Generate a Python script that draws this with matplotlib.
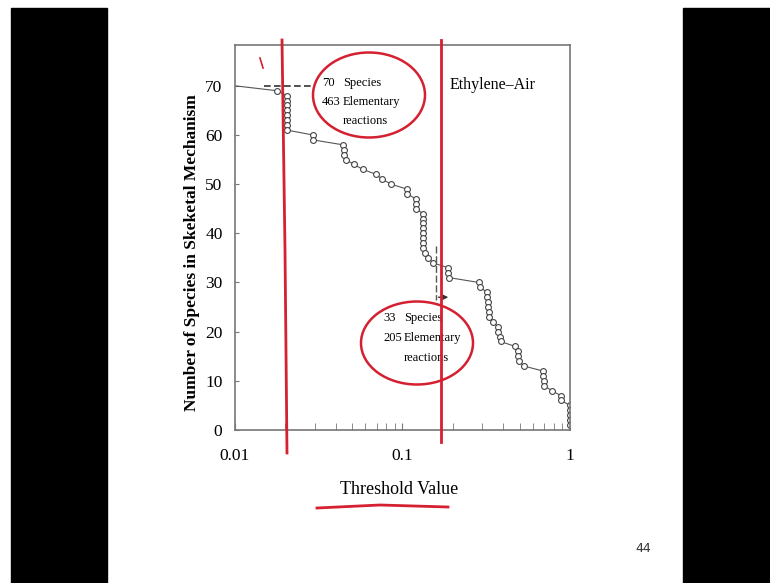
import matplotlib.pyplot as plt
import numpy as np
from matplotlib.patches import Ellipse, Rectangle
from matplotlib.lines import Line2D

# threshold value vs number of species kept in the skeletal mechanism
thresholds = [0.01, 0.0178,
              0.0204, 0.0204, 0.0204, 0.0204, 0.0204, 0.0204, 0.0204, 0.0204,
              0.0292, 0.0292,
              0.0441, 0.045, 0.045, 0.046,
              0.0513, 0.058, 0.0695, 0.0757, 0.0855,
              0.106, 0.107,
              0.120, 0.121, 0.121,
              0.132, 0.132, 0.133, 0.133, 0.133, 0.133, 0.133, 0.133,
              0.136, 0.142, 0.152,
              0.187, 0.187, 0.189,
              0.286, 0.29,
              0.32, 0.32, 0.322, 0.325, 0.33, 0.33,
              0.347, 0.37, 0.372, 0.38, 0.385,
              0.47, 0.49, 0.49, 0.495, 0.531,
              0.69, 0.69, 0.70, 0.70,
              0.78, 0.88, 0.885,
              1.0, 1.0, 1.0, 1.0, 1.0]
species = [70, 69,
           68, 67, 66, 65, 64, 63, 62, 61,
           60, 59,
           58, 57, 56, 55,
           54, 53, 52, 51, 50,
           49, 48,
           47, 46, 45,
           44, 43, 42, 41, 40, 39, 38, 37,
           36, 35, 34,
           33, 32, 31,
           30, 29,
           28, 27, 26, 25, 24, 23,
           22, 21, 20, 19, 18,
           17, 16, 15, 14, 13,
           12, 11, 10, 9,
           8, 7, 6,
           5, 4, 3, 2, 1]

x_ticks = [0.01, 0.1, 1]
x_tick_labels = ["0.01", "0.1", "1"]
y_ticks = [0, 10, 20, 30, 40, 50, 60, 70]

# annotation boxes: number column, word column, lines
note_full = ["70", "463", ""]
note_full_words = ["Species", "Elementary", "reactions"]
note_full_y = [70.6, 66.7, 62.9]
note_skel = ["33", "205", ""]
note_skel_words = ["Species", "Elementary", "reactions"]
note_skel_y = [22.8, 18.7, 14.65]

serif = "Liberation Serif"

fig = plt.figure(figsize=(7.7, 5.83), dpi=100)
fig.patch.set_facecolor("white")

# black side bars of the video frame
fig.patches.append(Rectangle((11 / 770, 0), 96 / 770, 575 / 583,
                             transform=fig.transFigure, color="black", zorder=0))
fig.patches.append(Rectangle((683 / 770, 0), 87 / 770, 575 / 583,
                             transform=fig.transFigure, color="black", zorder=0))

ax = fig.add_axes([235 / 770, 1 - 430 / 583, 335 / 770, 385 / 583])
ax.plot(thresholds, species, color="#555555", lw=0.8, marker="o", ms=4.2,
        mfc="white", mec="#444444", mew=0.8, markevery=list(range(1, len(species))))

ax.set_xscale("log")
ax.set_xlim(0.01, 1)
ax.set_ylim(0, 78.3)
ax.set_xticks(x_ticks)
ax.set_xticklabels(x_tick_labels)
ax.set_yticks(y_ticks)
ax.tick_params(axis="x", which="both", direction="in", length=5, pad=13,
               labelsize=12.5, color="#777777")
ax.tick_params(axis="y", direction="in", length=3, pad=9, labelsize=12.5,
               color="#777777")
for lab in ax.get_xticklabels() + ax.get_yticklabels():
    lab.set_fontfamily(serif)
for sp in ax.spines.values():
    sp.set_color("#777777")
    sp.set_linewidth(1.2)

ax.set_xlabel("Threshold Value", fontfamily=serif, fontsize=13)
ax.xaxis.set_label_coords(0.49, -0.132)
ax.set_ylabel("Number of Species in Skeketal Mechanism", fontfamily=serif,
              fontsize=12.5, fontweight="bold")
ax.yaxis.set_label_coords(-0.104, 0.46)

# annotations
ax.plot([0.015, 0.029], [70, 70], color="#333333", lw=1.2, ls=(0, (4, 2)))
for num, word, yv in zip(note_full, note_full_words, note_full_y):
    ax.text(0.0331, yv, num, fontfamily=serif, fontsize=9, va="center")
    ax.text(0.0441, yv, word, fontfamily=serif, fontsize=9, va="center")
ax.text(0.191, 70.2, "Ethylene\u2013Air", fontfamily=serif, fontsize=11.5, va="center")

ax.plot([0.158, 0.158], [37.5, 26.5], color="#555555", lw=1, ls=(0, (5, 2)))
ax.annotate("", xy=(0.195, 27), xytext=(0.158, 27),
            arrowprops=dict(arrowstyle="-|>", color="#333333", lw=1,
                            mutation_scale=8))
for num, word, yv in zip(note_skel, note_skel_words, note_skel_y):
    ax.text(0.0766, yv, num, fontfamily=serif, fontsize=9, va="center")
    ax.text(0.102, yv, word, fontfamily=serif, fontsize=9, va="center")

# hand drawn red marks (figure pixels)
red = "#d42030"
def fpx(x, y):
    return x / 770, 1 - y / 583

for (cx, cy, w, h) in [(369, 95, 112, 85), (417, 343, 112, 83)]:
    x0, y0 = fpx(cx, cy)
    fig.patches.append(Ellipse((x0, y0), w / 770, h / 583, transform=fig.transFigure,
                               fill=False, ec=red, lw=1.8, zorder=5))

for pts in [[(282, 40), (285, 250), (287, 453)],
            [(441, 40), (441, 250), (441, 442)],
            [(317, 508), (380, 505), (448, 507)],
            [(260, 58), (263, 68)]]:
    xs, ys = zip(*[fpx(*p) for p in pts])
    fig.add_artist(Line2D(xs, ys, transform=fig.transFigure, color=red,
                          lw=2 if len(pts) > 2 else 1.2, zorder=6))

fig.text(643 / 770, 1 - 548 / 583, "44", fontsize=9, ha="center", va="center",
         color="#333333")

fig.savefig("out.png", dpi=100)
